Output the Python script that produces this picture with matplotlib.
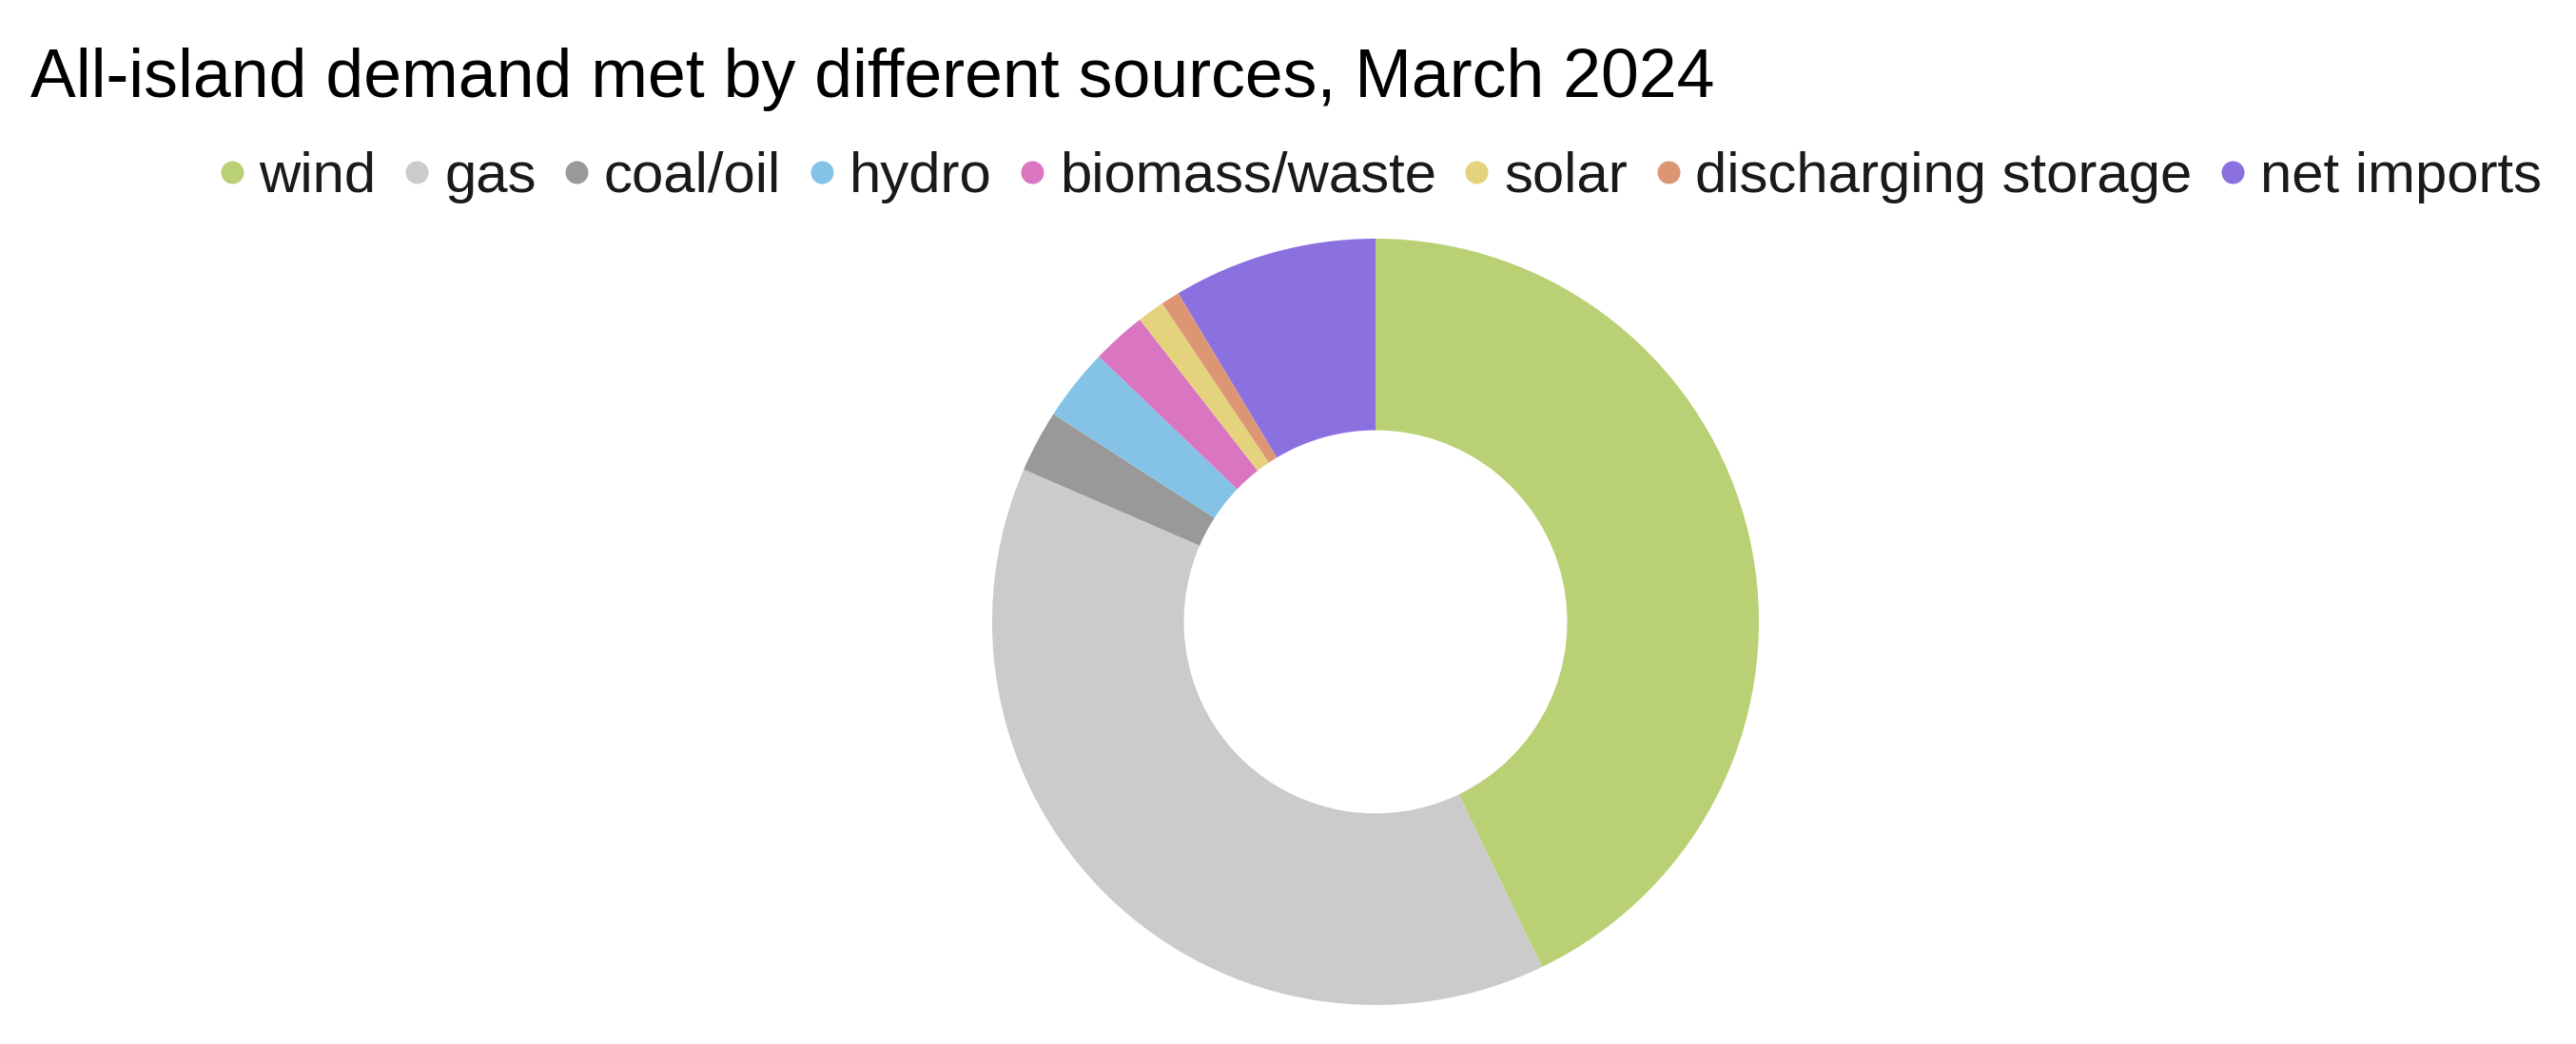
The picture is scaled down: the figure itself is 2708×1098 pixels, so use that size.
import matplotlib
matplotlib.use("Agg")
import matplotlib.pyplot as plt
from matplotlib.lines import Line2D

plt.rcParams['font.family'] = ['Liberation Sans', 'DejaVu Sans']

title = "All-island demand met by different sources, March 2024"
categories = ["wind", "gas", "coal/oil", "hydro", "biomass/waste", "solar",
              "discharging storage", "net imports"]
shares = [42.85, 38.66, 2.61, 3.05, 2.29, 1.15, 0.79, 8.60]
colors = ["#b9d174", "#cbcbcb", "#999999", "#84c3e6", "#d975c1", "#e5d27c",
          "#dd9674", "#8b70e0"]

W, H = 2708, 1098
fig = plt.figure(figsize=(W / 100, H / 100), dpi=100)

cx, cy, r = 1446, 654, 403
ax = fig.add_axes([(cx - r) / W, (H - cy - r) / H, 2 * r / W, 2 * r / H])
ax.pie(shares, colors=colors, startangle=90, counterclock=False, radius=1,
       wedgeprops=dict(width=0.5, linewidth=0))
ax.set_xlim(-1, 1)
ax.set_ylim(-1, 1)
ax.set_aspect('equal')
ax.axis('off')

fig.text(32 / W, 1 - 101.7 / H, title, ha='left', va='baseline',
         fontsize=51.6, color='black')

handles = [Line2D([], [], marker='o', linestyle='none', markersize=17.3,
                  markerfacecolor=c, markeredgewidth=0) for c in colors]
leg = fig.legend(handles, categories, loc='center right',
                 bbox_to_anchor=(2672 / W, 1 - 186 / H), ncol=len(categories),
                 frameon=False, fontsize=43.2, handlelength=0.42,
                 handletextpad=0.27, columnspacing=0.5, borderpad=0,
                 borderaxespad=0, labelcolor='#1a1a1a')

fig.savefig("out.png", dpi=100)
